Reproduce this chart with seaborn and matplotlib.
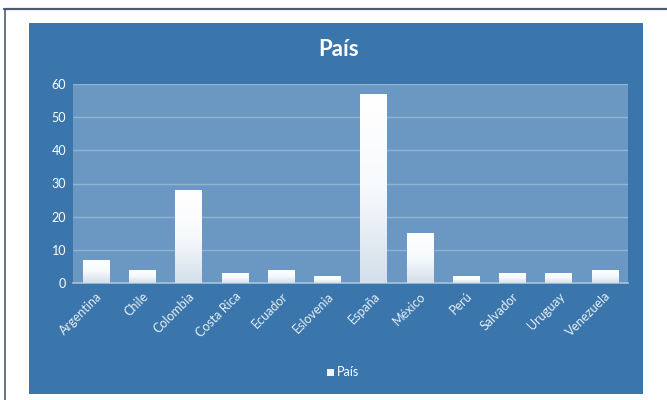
import numpy as np
import pandas as pd
import matplotlib
matplotlib.use("Agg")
import matplotlib.pyplot as plt
from matplotlib.patches import Rectangle
from matplotlib.lines import Line2D
from matplotlib.colors import LinearSegmentedColormap
import seaborn as sns

paises = ["Argentina", "Chile", "Colombia", "Costa Rica", "Ecuador", "Eslovenia",
          "España", "México", "Perú", "Salvador", "Uruguay", "Venezuela"]
valores = [7, 4, 28, 3, 4, 2, 57, 15, 2, 3, 3, 4]
yticks = [0, 10, 20, 30, 40, 50, 60]

sns.set_theme(style="white")
plt.rcParams['font.family'] = ['Lato', 'DejaVu Sans']

W, H = 667, 400
fig = plt.figure(figsize=(W / 100, H / 100), dpi=100)
fig.patch.set_facecolor("white")

# outer border lines
fig.add_artist(Line2D([4 / W, 1], [1 - 8.5 / H, 1 - 8.5 / H], color="#4d5b70", lw=1.6, transform=fig.transFigure))
fig.add_artist(Line2D([4.5 / W, 4.5 / W], [0, 1 - 8.5 / H], color="#4d5b70", lw=1.2, transform=fig.transFigure))

# blue chart area
fig.add_artist(Rectangle((29 / W, 1 - 394 / H), (643 - 29) / W, (394 - 23) / H,
                         transform=fig.transFigure, facecolor="#3a76ab", edgecolor="none", zorder=0))

ax = fig.add_axes([73 / W, 1 - 283 / H, (628 - 73) / W, (283 - 84) / H])
ax.set_facecolor("#6b98c2")

df = pd.DataFrame({"País": paises, "valor": valores})
sns.barplot(data=df, x="País", y="valor", ax=ax, color="white", width=0.57,
            edgecolor="none", zorder=3)

ax.set_ylim(0, 60)
ax.set_xlim(-0.5, len(paises) - 0.5)
ax.set_yticks(yticks)
ax.set_yticklabels([str(v) for v in yticks], color="white", fontsize=9)
ax.yaxis.grid(True, color="#93b3d2", lw=1)
ax.set_axisbelow(True)
for s in ["top", "right", "left"]:
    ax.spines[s].set_visible(False)
ax.spines["bottom"].set_color("#a9c2dc")
ax.spines["bottom"].set_linewidth(1.2)
ax.tick_params(axis="both", length=0, pad=5)
ax.set_xticks(range(len(paises)))
ax.set_xticklabels(paises, rotation=45, ha="right", rotation_mode="anchor",
                   color="#e6eef6", fontsize=9)
ax.set_xlabel("")
ax.set_ylabel("")

# gradient fill on each bar
cmap = LinearSegmentedColormap.from_list("g", ["#d3dfeb", "#f7fafc", "#ffffff"])
grad = np.linspace(0, 1, 256).reshape(-1, 1)
for p in ax.patches:
    x0, y0 = p.get_x(), p.get_y()
    w, h = p.get_width(), p.get_height()
    im = ax.imshow(grad, extent=[x0, x0 + w, y0, y0 + h], origin="lower",
                   cmap=cmap, aspect="auto", zorder=4)
    im.set_clip_path(p)
ax.set_xlim(-0.5, len(paises) - 0.5)
ax.set_ylim(0, 60)

fig.text(339 / W, 1 - 50 / H, "País", color="white", fontsize=16, fontweight="bold",
         ha="center", va="center")

# legend
fig.add_artist(Rectangle((327 / W, 1 - 376 / H), 7 / W, 7 / H, transform=fig.transFigure,
                         facecolor="#f0f4f8", edgecolor="none"))
fig.text(337 / W, 1 - 372.5 / H, "País", color="white", fontsize=9, ha="left", va="center")

fig.savefig("out.png", dpi=100)
